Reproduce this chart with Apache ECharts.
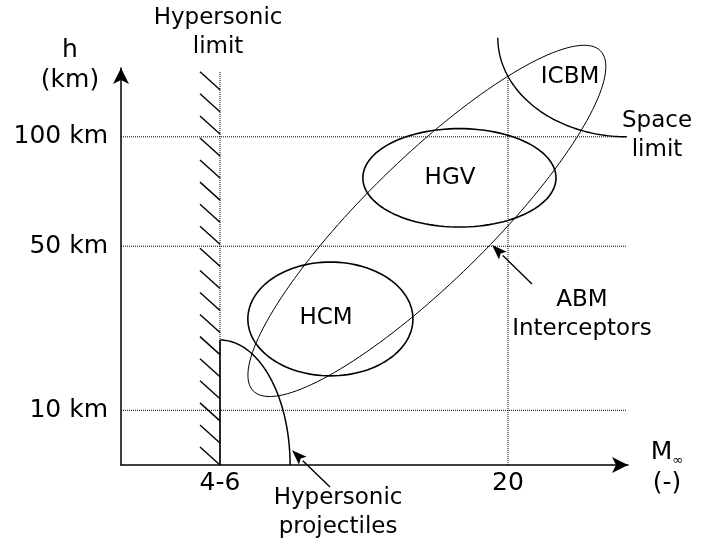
<!DOCTYPE html>
<html>
<head>
<meta charset="utf-8">
<script src="https://cdn.jsdelivr.net/npm/echarts@6/dist/echarts.min.js"></script>
<style>
  html, body { margin: 0; padding: 0; background: #fff; }
  #chart { width: 705px; height: 547px; }
</style>
</head>
<body>
<div id="chart"></div>
<script>
// schematic axes: x in Mach number, y in "altitude level" units
const machTicks = [5, 20];
const machTickLabels = ['4-6', '20'];
const altLevels = [1, 4, 6];
const altLabels = ['10 km', '50 km', '100 km'];

// flight regimes drawn as ellipses: centre and half sizes
const regionNames = ['HCM', 'HGV'];
const regionCenters = [[10.75, 2.67], [17.47, 5.25]];
const regionRadii = [[4.30, 1.04], [5.03, 0.90]];

// ABM interceptor envelope: ends of the long axis + half width
const abmEnds = [[6.73, 1.355], [24.82, 7.57]];
const abmHalfWidth = 1.13;

// quarter ellipses: [mach, level, half width, half height]
const spaceLimitArc = [26.19, 7.81, 6.72, 1.81];
const projectileArc = [5, 0, 3.65, 2.285];

// guide lines
const guideEnd = 26.19;                 // horizontal dotted lines end here
const vGuides = [[5, 7.20], [20, 7.09]]; // [mach, top level]
const hatchTop = 6.86;

// pointers for the side notes
const pointerFrom = [[21.25, 3.31], [10.73, -0.40]];
const pointerTo = [[19.17, 4.02], [8.75, 0.27]];

const noteTexts = ['HCM', 'HGV', 'ICBM', 'Space\nlimit', 'ABM\nInterceptors',
                   'Hypersonic\nprojectiles', 'Hypersonic\nlimit'];
const notePos = [[10.52, 2.69], [16.98, 5.25], [23.23, 7.09], [27.76, 6.03],
                 [23.85, 2.76], [11.15, -0.86], [4.9, 7.9]];

const FONT = 'DejaVu Sans';
const xMin = -0.156, xMax = 26.25;

function curve(c, ux, uy, vx, vy, t0, t1, n) {
  const pts = [];
  for (let i = 0; i <= n; i++) {
    const t = t0 + (t1 - t0) * i / n;
    pts.push([c[0] + ux * Math.cos(t) + vx * Math.sin(t),
              c[1] + uy * Math.cos(t) + vy * Math.sin(t)]);
  }
  return pts;
}

function arcItem(arc, t0, t1, api) {
  const c = api.coord([arc[0], arc[1]]);
  const r = api.size([arc[2], arc[3]]);
  return {
    type: 'polyline',
    shape: { points: curve(c, r[0], 0, 0, r[1], t0, t1, 80) },
    style: { fill: 'none', stroke: '#000', lineWidth: 1.4 }
  };
}

const chart = echarts.init(document.getElementById('chart'));

const option = {
  backgroundColor: '#fff',
  animation: false,
  grid: { left: 121, right: 77, top: 68, bottom: 82, outerBoundsMode: 'none' },
  xAxis: {
    type: 'value',
    min: xMin,
    max: xMax,
    axisLine: {
      onZero: false,
      symbol: ['none', 'arrow'],
      symbolSize: [12, 16],
      lineStyle: { color: '#000', width: 1.5 }
    },
    axisTick: { show: false },
    splitLine: { show: false },
    axisLabel: {
      customValues: machTicks,
      formatter: v => machTickLabels[machTicks.indexOf(v)] || '',
      color: '#000',
      fontFamily: FONT,
      fontSize: 25,
      margin: 6
    },
    name: '{m|M}{s|∞}\n{m|(-)}',
    nameLocation: 'end',
    nameGap: 39,
    nameTextStyle: {
      align: 'center',
      padding: [5, 0, 0, 0],
      rich: {
        m: { fontFamily: FONT, fontSize: 25, color: '#000', lineHeight: 31 },
        s: { fontFamily: FONT, fontSize: 13, color: '#000', verticalAlign: 'bottom', lineHeight: 31 }
      }
    }
  },
  yAxis: {
    type: 'value',
    min: 0,
    max: 7.258,
    axisLine: {
      onZero: false,
      symbol: ['none', 'arrow'],
      symbolSize: [12, 16],
      lineStyle: { color: '#000', width: 1.5 }
    },
    axisTick: { show: false },
    splitLine: { show: false },
    axisLabel: {
      customValues: altLevels,
      formatter: v => altLabels[altLevels.indexOf(v)] || '',
      color: '#000',
      fontFamily: FONT,
      fontSize: 25,
      margin: 13
    },
    name: 'h\n(km)',
    nameLocation: 'end',
    nameGap: -27,
    nameTextStyle: {
      color: '#000',
      fontFamily: FONT,
      fontSize: 25,
      lineHeight: 30,
      align: 'center',
      padding: [0, 102, 0, 0]
    }
  },
  series: [
    {
      // dotted guides
      type: 'custom',
      silent: true,
      clip: false,
      data: altLevels.map(l => [guideEnd, l]),
      renderItem: (params, api) => {
        const a = api.coord([xMin, api.value(1)]);
        const b = api.coord([api.value(0), api.value(1)]);
        return {
          type: 'line',
          shape: { x1: a[0], y1: a[1], x2: b[0], y2: b[1] },
          style: { stroke: '#000', lineWidth: 1, lineDash: [1, 1] }
        };
      }
    },
    {
      type: 'custom',
      silent: true,
      clip: false,
      data: vGuides,
      renderItem: (params, api) => {
        const a = api.coord([api.value(0), 0]);
        const b = api.coord([api.value(0), api.value(1)]);
        return {
          type: 'line',
          shape: { x1: a[0], y1: a[1], x2: b[0], y2: b[1] },
          style: { stroke: '#000', lineWidth: 1, lineDash: [1, 1] }
        };
      }
    },
    {
      // hatched hypersonic limit
      type: 'custom',
      silent: true,
      clip: false,
      data: [[vGuides[0][0], 0, hatchTop]],
      renderItem: (params, api) => {
        const bot = api.coord([api.value(0), api.value(1)]);
        const top = api.coord([api.value(0), api.value(2)]);
        const n = 18;
        const step = (bot[1] - top[1]) / (n - 1);
        const children = [];
        for (let i = 0; i < n; i++) {
          const y = bot[1] - i * step;
          children.push({
            type: 'line',
            shape: { x1: bot[0], y1: y, x2: bot[0] - 20, y2: y - 18 },
            style: { stroke: '#000', lineWidth: 1.4 }
          });
        }
        return { type: 'group', children: children };
      }
    },
    {
      // HCM / HGV regions
      type: 'custom',
      silent: true,
      clip: false,
      data: regionCenters.map((c, i) => [c[0], c[1], regionRadii[i][0], regionRadii[i][1]]),
      renderItem: (params, api) => {
        const c = api.coord([api.value(0), api.value(1)]);
        const r = api.size([api.value(2), api.value(3)]);
        return {
          type: 'polygon',
          shape: { points: curve(c, r[0], 0, 0, r[1], 0, Math.PI * 2, 120) },
          style: { fill: 'none', stroke: '#000', lineWidth: 1.6 }
        };
      }
    },
    {
      // ABM envelope
      type: 'custom',
      silent: true,
      clip: false,
      data: [abmEnds[0]],
      renderItem: (params, api) => {
        const p1 = api.coord(abmEnds[0]);
        const p2 = api.coord(abmEnds[1]);
        const c = [(p1[0] + p2[0]) / 2, (p1[1] + p2[1]) / 2];
        const ux = (p2[0] - p1[0]) / 2, uy = (p2[1] - p1[1]) / 2;
        const len = Math.hypot(ux, uy);
        const b = api.size([0, abmHalfWidth])[1];
        return {
          type: 'polygon',
          shape: { points: curve(c, ux, uy, -uy / len * b, ux / len * b, 0, Math.PI * 2, 160) },
          style: { fill: 'none', stroke: '#000', lineWidth: 1 }
        };
      }
    },
    {
      // space limit and hypersonic projectiles boundaries
      type: 'custom',
      silent: true,
      clip: false,
      data: [[spaceLimitArc[0], spaceLimitArc[1]], [projectileArc[0], projectileArc[1]]],
      renderItem: (params, api) => {
        if (params.dataIndex === 0) {
          return arcItem(spaceLimitArc, Math.PI, Math.PI / 2, api);
        }
        const arc = arcItem(projectileArc, -Math.PI / 2, 0, api);
        const a = api.coord([projectileArc[0], projectileArc[1]]);
        const b = api.coord([projectileArc[0], projectileArc[3]]);
        arc.style.lineWidth = 1.5;
        return {
          type: 'group',
          children: [
            arc,
            { type: 'line', shape: { x1: a[0], y1: a[1], x2: b[0], y2: b[1] },
              style: { stroke: '#000', lineWidth: 1.6 } }
          ]
        };
      }
    },
    {
      // pointers
      type: 'custom',
      silent: true,
      clip: false,
      data: pointerFrom,
      renderItem: (params, api) => {
        const a = api.coord(pointerFrom[params.dataIndex]);
        const t = api.coord(pointerTo[params.dataIndex]);
        const dx = t[0] - a[0], dy = t[1] - a[1];
        const len = Math.hypot(dx, dy);
        const ex = dx / len, ey = dy / len;
        const hl = 15, hw = 5.5;
        const bx = t[0] - ex * hl, by = t[1] - ey * hl;
        return {
          type: 'group',
          children: [
            { type: 'line', shape: { x1: a[0], y1: a[1], x2: bx, y2: by },
              style: { stroke: '#000', lineWidth: 1.4 } },
            { type: 'polygon',
              shape: { points: [t, [bx - ey * hw, by + ex * hw], [bx + ex * 3, by + ey * 3], [bx + ey * hw, by - ex * hw]] },
              style: { fill: '#000', stroke: 'none' } }
          ]
        };
      }
    },
    {
      // text notes
      type: 'custom',
      silent: true,
      clip: false,
      data: notePos,
      renderItem: (params, api) => {
        const p = api.coord(notePos[params.dataIndex]);
        return {
          type: 'text',
          x: p[0],
          y: p[1],
          style: {
            text: noteTexts[params.dataIndex],
            fill: '#000',
            fontFamily: FONT,
            fontSize: 23,
            lineHeight: 29,
            textAlign: 'center',
            textVerticalAlign: 'middle'
          }
        };
      }
    }
  ]
};

chart.setOption(option);
</script>
</body>
</html>
